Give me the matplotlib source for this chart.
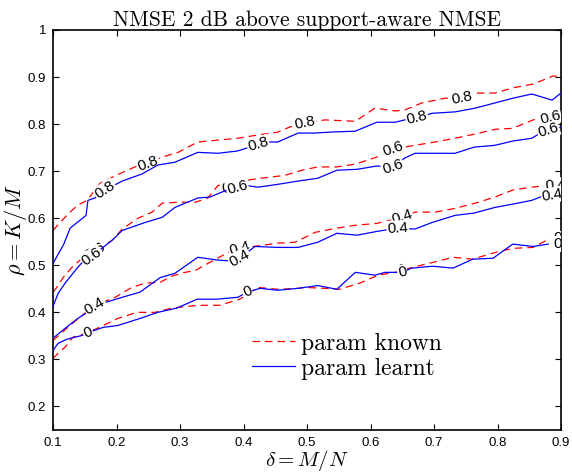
import numpy as np
import matplotlib
matplotlib.use("Agg")
import matplotlib.pyplot as plt

plt.rcParams['mathtext.fontset'] = 'cm'
plt.rcParams['font.family'] = ['Liberation Sans', 'DejaVu Sans']

# ---------------- data (delta = M/N, rho = K/M) ----------------
levels = ["0.8", "0.6", "0.4", "0"]

# param learnt (blue)
learnt_08_x = [0.100, 0.117, 0.127, 0.152, 0.155, 0.166, 0.182, 0.209, 0.240, 0.265, 0.292, 0.328, 0.360, 0.391, 0.423, 0.437, 0.454, 0.486, 0.513, 0.536, 0.576, 0.610, 0.639, 0.654, 0.672, 0.697, 0.733, 0.765, 0.796, 0.824, 0.854, 0.886, 0.900]
learnt_08_y = [0.504, 0.545, 0.579, 0.606, 0.638, 0.643, 0.660, 0.679, 0.694, 0.713, 0.719, 0.740, 0.738, 0.743, 0.757, 0.762, 0.762, 0.781, 0.781, 0.783, 0.785, 0.804, 0.804, 0.809, 0.813, 0.823, 0.826, 0.834, 0.845, 0.855, 0.864, 0.851, 0.866]

learnt_06_x = [0.100, 0.108, 0.119, 0.138, 0.146, 0.161, 0.193, 0.209, 0.245, 0.272, 0.292, 0.328, 0.347, 0.374, 0.389, 0.402, 0.423, 0.454, 0.486, 0.517, 0.547, 0.579, 0.610, 0.635, 0.654, 0.670, 0.702, 0.733, 0.763, 0.796, 0.824, 0.854, 0.870, 0.880, 0.900]
learnt_06_y = [0.413, 0.440, 0.462, 0.494, 0.506, 0.519, 0.553, 0.574, 0.591, 0.602, 0.623, 0.643, 0.645, 0.660, 0.666, 0.670, 0.666, 0.672, 0.679, 0.685, 0.702, 0.704, 0.711, 0.709, 0.728, 0.738, 0.738, 0.738, 0.751, 0.755, 0.764, 0.770, 0.783, 0.787, 0.794]

learnt_04_x = [0.100, 0.119, 0.139, 0.154, 0.166, 0.182, 0.209, 0.237, 0.269, 0.292, 0.328, 0.360, 0.383, 0.394, 0.418, 0.454, 0.486, 0.517, 0.547, 0.579, 0.610, 0.643, 0.670, 0.697, 0.733, 0.763, 0.796, 0.824, 0.854, 0.875, 0.886, 0.900]
learnt_04_y = [0.345, 0.366, 0.387, 0.400, 0.413, 0.421, 0.432, 0.443, 0.474, 0.483, 0.517, 0.511, 0.509, 0.515, 0.540, 0.538, 0.538, 0.549, 0.568, 0.564, 0.572, 0.579, 0.577, 0.591, 0.606, 0.611, 0.623, 0.630, 0.638, 0.649, 0.649, 0.655]

learnt_00_x = [0.100, 0.108, 0.122, 0.146, 0.155, 0.179, 0.202, 0.237, 0.265, 0.295, 0.327, 0.358, 0.391, 0.406, 0.426, 0.454, 0.486, 0.517, 0.547, 0.576, 0.607, 0.623, 0.650, 0.665, 0.698, 0.730, 0.761, 0.793, 0.824, 0.856, 0.880]
learnt_00_y = [0.319, 0.334, 0.343, 0.351, 0.357, 0.368, 0.372, 0.387, 0.400, 0.409, 0.428, 0.428, 0.432, 0.443, 0.451, 0.447, 0.451, 0.457, 0.449, 0.485, 0.479, 0.485, 0.485, 0.494, 0.498, 0.494, 0.513, 0.515, 0.545, 0.540, 0.545]

# param known (red)
known_08_x = [0.100, 0.111, 0.127, 0.139, 0.154, 0.166, 0.174, 0.193, 0.217, 0.229, 0.250, 0.272, 0.297, 0.328, 0.360, 0.391, 0.423, 0.454, 0.473, 0.497, 0.528, 0.576, 0.607, 0.639, 0.654, 0.681, 0.717, 0.743, 0.765, 0.796, 0.824, 0.856, 0.887, 0.900]
known_08_y = [0.574, 0.591, 0.613, 0.628, 0.638, 0.660, 0.674, 0.687, 0.702, 0.709, 0.717, 0.730, 0.740, 0.762, 0.766, 0.770, 0.777, 0.783, 0.794, 0.802, 0.809, 0.806, 0.834, 0.828, 0.830, 0.845, 0.855, 0.855, 0.866, 0.866, 0.877, 0.885, 0.902, 0.902]

known_06_x = [0.100, 0.106, 0.116, 0.130, 0.146, 0.161, 0.193, 0.209, 0.234, 0.256, 0.272, 0.297, 0.324, 0.344, 0.360, 0.383, 0.406, 0.439, 0.465, 0.492, 0.517, 0.547, 0.576, 0.610, 0.635, 0.670, 0.702, 0.733, 0.765, 0.796, 0.824, 0.856, 0.883, 0.900]
known_06_y = [0.443, 0.453, 0.474, 0.496, 0.515, 0.526, 0.553, 0.577, 0.600, 0.613, 0.632, 0.634, 0.634, 0.643, 0.670, 0.666, 0.681, 0.687, 0.691, 0.702, 0.709, 0.709, 0.715, 0.730, 0.747, 0.755, 0.762, 0.770, 0.779, 0.789, 0.791, 0.809, 0.815, 0.823]

known_04_x = [0.100, 0.114, 0.131, 0.150, 0.166, 0.198, 0.224, 0.245, 0.269, 0.287, 0.308, 0.324, 0.344, 0.374, 0.394, 0.454, 0.481, 0.513, 0.547, 0.576, 0.610, 0.650, 0.670, 0.702, 0.733, 0.765, 0.796, 0.824, 0.854, 0.880, 0.891, 0.900]
known_04_y = [0.340, 0.357, 0.377, 0.398, 0.415, 0.432, 0.453, 0.462, 0.464, 0.477, 0.485, 0.489, 0.504, 0.526, 0.536, 0.547, 0.549, 0.570, 0.579, 0.585, 0.589, 0.602, 0.613, 0.613, 0.621, 0.632, 0.645, 0.660, 0.666, 0.670, 0.670, 0.672]

known_00_x = [0.100, 0.108, 0.119, 0.131, 0.155, 0.179, 0.202, 0.232, 0.261, 0.287, 0.328, 0.363, 0.394, 0.423, 0.454, 0.486, 0.497, 0.528, 0.551, 0.583, 0.612, 0.639, 0.667, 0.698, 0.730, 0.761, 0.793, 0.824, 0.856, 0.883]
known_00_y = [0.302, 0.313, 0.326, 0.347, 0.357, 0.372, 0.387, 0.400, 0.400, 0.409, 0.415, 0.415, 0.428, 0.453, 0.449, 0.451, 0.453, 0.451, 0.449, 0.462, 0.479, 0.485, 0.496, 0.506, 0.517, 0.513, 0.526, 0.536, 0.538, 0.557]

learnt_lines = [(learnt_08_x, learnt_08_y), (learnt_06_x, learnt_06_y),
                (learnt_04_x, learnt_04_y), (learnt_00_x, learnt_00_y)]
known_lines = [(known_08_x, known_08_y), (known_06_x, known_06_y),
               (known_04_x, known_04_y), (known_00_x, known_00_y)]

# inline label positions (delta values)
learnt_label_pos = [[0.182, 0.423, 0.673], [0.161, 0.390, 0.635, 0.880],
                    [0.166, 0.394, 0.643, 0.886], [0.155, 0.406, 0.650, 0.895]]
known_label_pos = [[0.250, 0.497, 0.744], [0.166, 0.382, 0.635, 0.883],
                   [0.166, 0.394, 0.650, 0.891], [0.155, 0.406, 0.650, 0.895]]

x_ticks = [0.1, 0.2, 0.3, 0.4, 0.5, 0.6, 0.7, 0.8, 0.9]
y_ticks = [0.2, 0.3, 0.4, 0.5, 0.6, 0.7, 0.8, 0.9, 1.0]

# ---------------- figure ----------------
fig = plt.figure(figsize=(5.72, 4.76), dpi=100)
ax = fig.add_axes([53 / 572, 1 - 430 / 476, 508 / 572, 400 / 476])
ax.set_xlim(0.1, 0.9)
ax.set_ylim(0.15, 1.0)


def add_labels(xs, ys, positions, text, z):
    xs = np.asarray(xs)
    ys = np.asarray(ys)
    for lx in positions:
        ly = np.interp(lx, xs, ys)
        a = ax.transData.transform((lx - 0.012, np.interp(lx - 0.012, xs, ys)))
        b = ax.transData.transform((lx + 0.012, np.interp(lx + 0.012, xs, ys)))
        ang = np.degrees(np.arctan2(b[1] - a[1], b[0] - a[0]))
        ax.text(lx, ly, text, rotation=ang, rotation_mode='anchor',
                ha='center', va='center', fontsize=11, color='black',
                zorder=z, clip_on=True,
                bbox=dict(boxstyle='square,pad=0.05', fc='white', ec='none'))


for i, (xs, ys) in enumerate(known_lines):
    ax.plot(xs, ys, color='#ff0000', lw=0.9, dashes=(6, 4), zorder=2,
            label='param known' if i == 0 else None)
    add_labels(xs, ys, known_label_pos[i], levels[i], 3)

for i, (xs, ys) in enumerate(learnt_lines):
    ax.plot(xs, ys, color='#0000ff', lw=0.9, zorder=4,
            label='param learnt' if i == 0 else None)
    add_labels(xs, ys, learnt_label_pos[i], levels[i], 5)

ax.set_xticks(x_ticks)
ax.set_yticks(y_ticks)
ax.set_xticklabels(['%g' % v for v in x_ticks])
ax.set_yticklabels(['%g' % v for v in y_ticks])
ax.tick_params(direction='in', top=True, right=True, labelsize=9.5,
               length=4, width=0.8, pad=5)
for s in ax.spines.values():
    s.set_linewidth(1.2)

ax.set_title('NMSE 2 dB above support-aware NMSE', family='cmr10',
             fontsize=15.5, pad=3)
ax.set_xlabel(r'$\delta = M/N$', fontsize=15, labelpad=-1)
ax.set_ylabel(r'$\rho = K/M$', fontsize=16, labelpad=-1)

leg = ax.legend(loc='upper left', bbox_to_anchor=(0.36, 0.285), frameon=False,
                prop={'family': 'cmr10', 'size': 17}, handlelength=1.8,
                handletextpad=0.25, labelspacing=0.12, borderpad=0.2)

fig.savefig('out.png', dpi=100)
